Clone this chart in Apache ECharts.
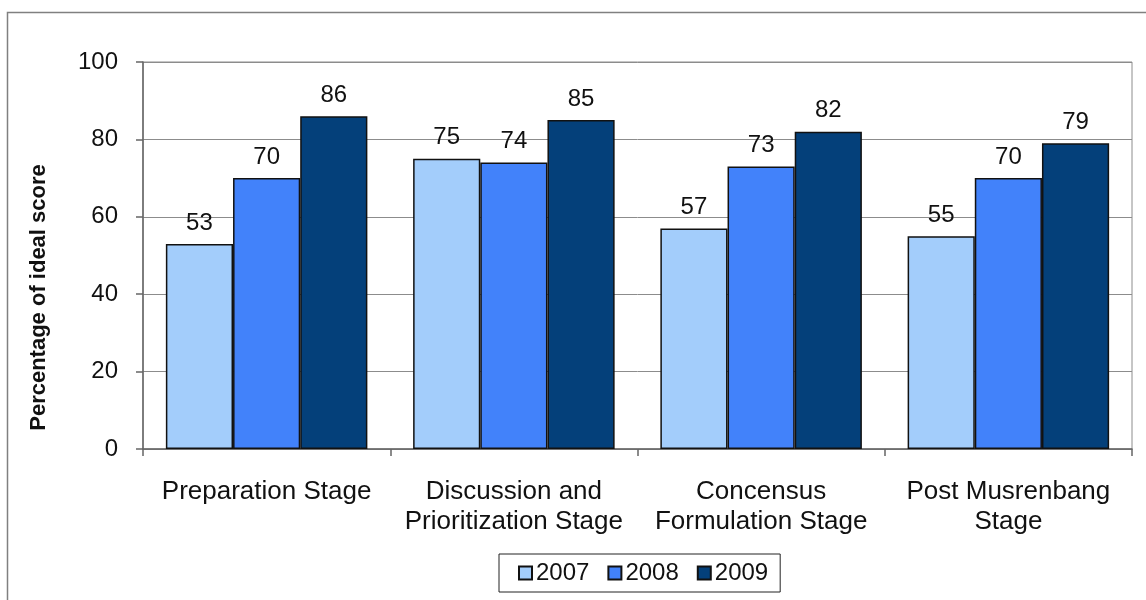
<!DOCTYPE html>
<html>
<head>
<meta charset="utf-8">
<script src="https://cdn.jsdelivr.net/npm/echarts@6/dist/echarts.min.js"></script>
<style>
  html, body { margin: 0; padding: 0; background: #fff; }
  #chart { width: 1146px; height: 600px; }
</style>
</head>
<body>
<div id="chart"></div>
<script>
// Musrenbang stage scores, percentage of ideal score
const stages = [
  'Preparation Stage',
  'Discussion and\nPrioritization Stage',
  'Concensus\nFormulation Stage',
  'Post Musrenbang\nStage'
];
const years = ['2007', '2008', '2009'];
const values2007 = [53, 75, 57, 55];
const values2008 = [70, 74, 73, 70];
const values2009 = [86, 85, 82, 79];
const yTicks = [0, 20, 40, 60, 80, 100];

const colors = ['#a3cdfb', '#4282fa', '#04407a'];
const seriesValues = [values2007, values2008, values2009];
const FONT = '"Liberation Sans", Arial, sans-serif';

const chart = echarts.init(document.getElementById('chart'));

chart.setOption({
  animation: false,
  textStyle: { fontFamily: FONT },
  graphic: [{
    type: 'rect',
    shape: { x: 7.5, y: 12.5, width: 1200, height: 700 },
    style: { fill: 'none', stroke: '#808080', lineWidth: 1.5 },
    silent: true,
    z: -10
  }],
  grid: {
    left: 143, right: 14, top: 62, bottom: 151,
    show: true, borderColor: '#8c8c8c', borderWidth: 1
  },
  legend: {
    data: years,
    bottom: 8,
    left: 499,
    itemWidth: 13,
    itemHeight: 13,
    itemGap: 18,
    borderColor: '#222',
    borderWidth: 1,
    padding: [7, 12, 7, 19],
    icon: 'rect',
    textStyle: { fontSize: 24, color: '#111', fontFamily: FONT, padding: [0, 0, 0, -1] }
  },
  xAxis: {
    type: 'category',
    data: stages,
    axisLine: { lineStyle: { color: '#666', width: 1.5 } },
    axisTick: { show: true, alignWithLabel: false, length: 7, lineStyle: { color: '#666', width: 1.5 } },
    axisLabel: {
      fontSize: 26, color: '#111', margin: 28, lineHeight: 30,
      interval: 0, fontFamily: FONT
    }
  },
  yAxis: {
    type: 'value',
    min: 0, max: 100, interval: 20,
    name: 'Percentage of ideal score',
    nameLocation: 'middle',
    nameGap: 93,
    nameTextStyle: {
      fontSize: 22, fontWeight: 'bold', color: '#111', fontFamily: FONT,
      padding: [0, 84, 0, 0]
    },
    axisLine: { show: true, lineStyle: { color: '#666', width: 1.5 } },
    axisTick: { show: true, length: 7, lineStyle: { color: '#666', width: 1.5 } },
    axisLabel: {
      fontSize: 24, color: '#111', margin: 25, fontFamily: FONT,
      formatter: v => yTicks.includes(v) ? String(v) : ''
    },
    splitLine: { lineStyle: { color: '#8c8c8c', width: 1 } }
  },
  series: years.map((y, i) => ({
    name: y,
    type: 'bar',
    data: seriesValues[i],
    barGap: '0%',
    barCategoryGap: '18.5%',
    itemStyle: { color: colors[i], borderColor: '#111', borderWidth: 1.5 },
    label: {
      show: true, position: 'top', distance: 9,
      fontSize: 24, color: '#111', fontFamily: FONT
    }
  }))
});
</script>
</body>
</html>
